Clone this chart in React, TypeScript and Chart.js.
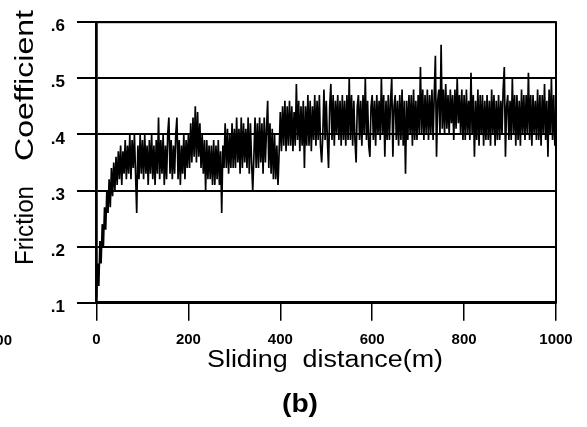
import { useEffect, useRef } from "react";
import { Chart, registerables } from "chart.js";

Chart.register(...registerables);

// Sampling step of the friction trace (m)
const STEP_M = 2.5;

// Friction coefficient, 0 – 197.5 m
const friction0to200 = [
  0.11, 0.17, 0.13, 0.21, 0.17, 0.24, 0.20, 0.27, 0.23, 0.30, 0.26, 0.32, 0.27, 0.34, 0.29, 0.35, 0.30, 0.36, 0.31, 0.37,
  0.32, 0.38, 0.31, 0.37, 0.33, 0.39, 0.32, 0.38, 0.33, 0.40, 0.32, 0.39, 0.34, 0.40, 0.33, 0.26, 0.38, 0.32, 0.40, 0.33,
  0.39, 0.32, 0.40, 0.33, 0.38, 0.31, 0.39, 0.33, 0.40, 0.32, 0.38, 0.31, 0.39, 0.33, 0.43, 0.32, 0.39, 0.33, 0.40, 0.31,
  0.38, 0.32, 0.40, 0.43, 0.33, 0.39, 0.32, 0.38, 0.33, 0.40, 0.43, 0.32, 0.39, 0.31, 0.38, 0.33, 0.40, 0.32, 0.39, 0.34,
];
// 200 – 397.5 m
const friction200to400 = [
  0.40, 0.34, 0.42, 0.35, 0.43, 0.36, 0.45, 0.35, 0.44, 0.36, 0.42, 0.34, 0.40, 0.33, 0.39, 0.30, 0.39, 0.32, 0.38, 0.32,
  0.38, 0.31, 0.39, 0.31, 0.38, 0.32, 0.39, 0.31, 0.37, 0.26, 0.38, 0.34, 0.42, 0.34, 0.41, 0.33, 0.40, 0.34, 0.42, 0.34,
  0.41, 0.34, 0.43, 0.35, 0.41, 0.33, 0.43, 0.34, 0.42, 0.35, 0.41, 0.34, 0.43, 0.33, 0.42, 0.35, 0.30, 0.36, 0.43, 0.34,
  0.42, 0.34, 0.43, 0.35, 0.42, 0.33, 0.43, 0.35, 0.41, 0.46, 0.34, 0.42, 0.33, 0.41, 0.32, 0.40, 0.32, 0.38, 0.31, 0.37,
];
// 400 – 597.5 m
const friction400to600 = [
  0.44, 0.37, 0.45, 0.38, 0.46, 0.37, 0.45, 0.38, 0.46, 0.38, 0.45, 0.37, 0.44, 0.38, 0.49, 0.39, 0.46, 0.37, 0.45, 0.38,
  0.46, 0.34, 0.45, 0.38, 0.47, 0.38, 0.46, 0.37, 0.45, 0.39, 0.47, 0.38, 0.46, 0.39, 0.47, 0.38, 0.35, 0.40, 0.48, 0.39,
  0.46, 0.39, 0.34, 0.45, 0.49, 0.39, 0.47, 0.38, 0.46, 0.40, 0.47, 0.39, 0.46, 0.38, 0.47, 0.39, 0.46, 0.38, 0.47, 0.39,
  0.50, 0.39, 0.47, 0.38, 0.46, 0.39, 0.35, 0.45, 0.47, 0.39, 0.46, 0.38, 0.47, 0.40, 0.50, 0.39, 0.46, 0.38, 0.36, 0.45,
];
// 600 – 797.5 m
const friction600to800 = [
  0.47, 0.39, 0.46, 0.38, 0.47, 0.40, 0.46, 0.39, 0.50, 0.40, 0.47, 0.36, 0.46, 0.39, 0.47, 0.39, 0.46, 0.50, 0.36, 0.45,
  0.47, 0.39, 0.46, 0.38, 0.47, 0.39, 0.48, 0.38, 0.46, 0.33, 0.46, 0.39, 0.47, 0.40, 0.47, 0.38, 0.48, 0.39, 0.46, 0.39,
  0.47, 0.40, 0.52, 0.40, 0.48, 0.39, 0.47, 0.40, 0.48, 0.39, 0.47, 0.40, 0.48, 0.39, 0.47, 0.54, 0.36, 0.46, 0.48, 0.40,
  0.56, 0.41, 0.48, 0.40, 0.49, 0.41, 0.47, 0.40, 0.48, 0.42, 0.47, 0.39, 0.48, 0.41, 0.50, 0.42, 0.47, 0.40, 0.48, 0.39,
];
// 800 – 1000 m
const friction800to1000 = [
  0.47, 0.39, 0.48, 0.40, 0.46, 0.39, 0.51, 0.40, 0.47, 0.36, 0.46, 0.39, 0.48, 0.38, 0.47, 0.40, 0.47, 0.38, 0.46, 0.39,
  0.47, 0.39, 0.46, 0.38, 0.48, 0.40, 0.47, 0.38, 0.46, 0.39, 0.47, 0.39, 0.46, 0.40, 0.48, 0.52, 0.36, 0.45, 0.47, 0.39,
  0.46, 0.39, 0.50, 0.40, 0.47, 0.38, 0.47, 0.39, 0.46, 0.38, 0.48, 0.40, 0.47, 0.39, 0.47, 0.40, 0.51, 0.39, 0.47, 0.38,
  0.47, 0.40, 0.46, 0.39, 0.48, 0.39, 0.47, 0.38, 0.47, 0.40, 0.49, 0.39, 0.46, 0.36, 0.48, 0.40, 0.50, 0.39, 0.47, 0.38,
  0.44,
];

const X_MIN = 0;
const X_MAX = 1000;
const X_STEP = 200;
const Y_MIN = 0.1;
const Y_MAX = 0.6;
const Y_STEP = 0.1;

const X_TITLE = "Sliding  distance(m)";
const Y_TITLE_WORD1 = "Friction";
const Y_TITLE_WORD2 = "Coefficient";
const PANEL_LABEL = "(b)";
const NEIGHBOR_TICK = "1000";

const FONT = '"Liberation Sans", Arial, Helvetica, sans-serif';

function fitText(ctx: CanvasRenderingContext2D, text: string, x: number, y: number, width: number) {
  const w = ctx.measureText(text).width;
  ctx.save();
  ctx.translate(x, y);
  ctx.scale(width / w, 1);
  ctx.fillText(text, 0, 0);
  ctx.restore();
}

const decorPlugin = {
  id: "decor",
  afterDraw(chart: any) {
    const ctx: CanvasRenderingContext2D = chart.ctx;
    const a = chart.chartArea;
    ctx.save();
    // frame
    ctx.strokeStyle = "#000";
    ctx.lineWidth = 2;
    ctx.strokeRect(a.left, a.top, a.right - a.left, a.bottom - a.top);

    ctx.fillStyle = "#000";
    ctx.textAlign = "left";
    ctx.textBaseline = "alphabetic";

    // y title (rotated)
    ctx.save();
    ctx.translate(33, 265);
    ctx.rotate(-Math.PI / 2);
    ctx.font = `25px ${FONT}`;
    fitText(ctx, Y_TITLE_WORD1, 0, 0, 79);
    fitText(ctx, Y_TITLE_WORD2, 104, 0, 151);
    ctx.restore();

    // x title
    ctx.font = `23px ${FONT}`;
    fitText(ctx, X_TITLE, 207, 367, 236);

    // panel label
    ctx.font = `bold 25px ${FONT}`;
    fitText(ctx, PANEL_LABEL, 282, 412, 36);

    // clipped tick label of the neighbouring panel
    ctx.font = `bold 15px ${FONT}`;
    ctx.textAlign = "right";
    ctx.fillText(NEIGHBOR_TICK, 12, 345);
    ctx.restore();
  },
};

export default function App() {
  const ref = useRef<HTMLCanvasElement>(null);

  useEffect(() => {
    const values = [
      ...friction0to200,
      ...friction200to400,
      ...friction400to600,
      ...friction600to800,
      ...friction800to1000,
    ];
    const points = values.map((y, i) => ({ x: i * STEP_M, y }));

    const chart = new Chart(ref.current as HTMLCanvasElement, {
      type: "line",
      data: {
        datasets: [
          {
            data: points,
            borderColor: "#000",
            borderWidth: 1.7,
            pointRadius: 0,
            tension: 0,
            fill: false,
          },
        ],
      },
      options: {
        animation: false,
        responsive: false,
        devicePixelRatio: 1,
        layout: { padding: { left: 0, right: 31, top: 16, bottom: 0 } },
        plugins: { legend: { display: false }, tooltip: { enabled: false } },
        scales: {
          x: {
            type: "linear",
            min: X_MIN,
            max: X_MAX,
            ticks: {
              stepSize: X_STEP,
              color: "#000",
              font: { family: FONT, size: 15, weight: "bold" },
              padding: 10,
              maxRotation: 0,
              callback: (v: any) => String(v),
            },
            grid: { drawOnChartArea: false, tickLength: 18, color: "#000", lineWidth: 1.5 },
            border: { color: "#000", width: 2.5 },
            afterFit: (s: any) => {
              s.height = 124.3;
            },
          },
          y: {
            type: "linear",
            min: Y_MIN,
            max: Y_MAX,
            ticks: {
              stepSize: Y_STEP,
              color: "#000",
              font: { family: FONT, size: 17, weight: "bold" },
              padding: 12,
              labelOffset: 4.5,
              callback: (v: any) => Number(v).toFixed(1).replace(/^0/, ""),
            },
            grid: { color: "#000", lineWidth: 2, tickLength: 19.5 },
            border: { color: "#000", width: 2.5 },
            afterFit: (s: any) => {
              s.width = 96.5;
            },
          },
        },
      } as any,
      plugins: [decorPlugin],
    });
    return () => chart.destroy();
  }, []);

  return (
    <div style={{ position: "absolute", left: 0, top: 0, width: 587, height: 427, background: "#fff" }}>
      <canvas ref={ref} width={587} height={427} style={{ display: "block", width: 587, height: 427 }} />
    </div>
  );
}
